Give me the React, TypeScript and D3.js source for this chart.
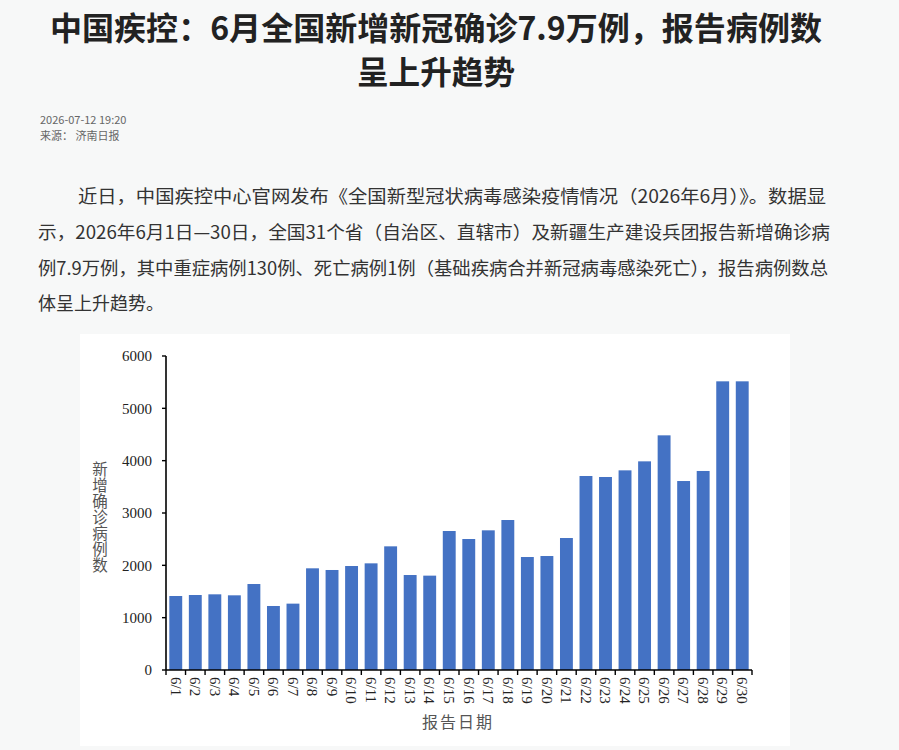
import React from "react";
import * as d3 from "d3";

const categories = ["6/1","6/2","6/3","6/4","6/5","6/6","6/7","6/8","6/9","6/10","6/11","6/12","6/13","6/14","6/15","6/16","6/17","6/18","6/19","6/20","6/21","6/22","6/23","6/24","6/25","6/26","6/27","6/28","6/29","6/30"];
const values = [1414,1433,1446,1427,1643,1223,1268,1943,1911,1987,2038,2363,1815,1803,2656,2503,2669,2866,2159,2178,2522,3707,3688,3815,3987,4484,3611,3803,5516,5516];
const yTicks = [0,1000,2000,3000,4000,5000,6000];
const titleLines = ["中国疾控：6月全国新增新冠确诊7.9万例，报告病例数", "呈上升趋势"];
const metaLines = ["2026-07-12 19:20", "来源：  济南日报"];
const paraLines = [
  "近日，中国疾控中心官网发布《全国新型冠状病毒感染疫情情况（2026年6月）》。数据显",
  "示，2026年6月1日—30日，全国31个省（自治区、直辖市）及新疆生产建设兵团报告新增确诊病",
  "例7.9万例，其中重症病例130例、死亡病例1例（基础疾病合并新冠病毒感染死亡），报告病例数总",
  "体呈上升趋势。",
];
const yAxisTitle = "新增确诊病例数";
const xAxisTitle = "报告日期";

export default function App() {
  const W = 899, H = 750;
  const x0 = 166, x1 = 752, yBase = 670, yTop = 356;
  const x = d3.scaleBand<string>().domain(categories).range([x0, x1]).paddingInner(0.34).paddingOuter(0.17);
  const y = d3.scaleLinear().domain([0, 6000]).range([yBase, yTop]);
  const step = (x1 - x0) / categories.length;
  const sans = "'Noto Sans CJK SC', 'Noto Sans', sans-serif";
  const serif = "'Liberation Serif', 'DejaVu Serif', 'Noto Sans CJK SC', serif";
  const paraSpec = [
    { x: 78, y: 203, len: 748 },
    { x: 38, y: 239, len: 792 },
    { x: 38, y: 275, len: 790 },
    { x: 38, y: 310, len: 0 },
  ];
  return (
    <svg width={W} height={H} style={{ position: "absolute", left: 0, top: 0 }} xmlns="http://www.w3.org/2000/svg">
      <rect x={0} y={0} width={W} height={H} fill="#f7f8f8" />
      {/* title */}
      <text x={436} y={40} textAnchor="middle" fontFamily={sans} fontWeight={700} fontSize={32} fill="#222"
        textLength={772} lengthAdjust="spacingAndGlyphs">{titleLines[0]}</text>
      <text x={436} y={84} textAnchor="middle" fontFamily={sans} fontWeight={700} fontSize={32} fill="#222"
        textLength={158} lengthAdjust="spacingAndGlyphs">{titleLines[1]}</text>
      {/* meta */}
      <text x={40} y={124} fontFamily={sans} fontSize={11} fill="#666">{metaLines[0]}</text>
      <text x={40} y={140} fontFamily={sans} fontSize={11} fill="#666">{metaLines[1]}</text>
      {/* paragraph */}
      {paraLines.map((t, i) => (
        <text key={i} x={paraSpec[i].x} y={paraSpec[i].y} fontFamily={sans} fontSize={18} fill="#333"
          {...(paraSpec[i].len ? { textLength: paraSpec[i].len, lengthAdjust: "spacingAndGlyphs" } : {})}>{t}</text>
      ))}
      {/* chart panel */}
      <rect x={80} y={334} width={710} height={412} fill="#ffffff" />
      {categories.map((c, i) => (
        <rect key={c} x={x(c)!} y={y(values[i])} width={x.bandwidth()} height={yBase - y(values[i])} fill="#4472c4" />
      ))}
      {/* y axis */}
      <line x1={x0} x2={x0} y1={yTop} y2={yBase} stroke="#000" strokeWidth={1.6} />
      {yTicks.map((t) => (
        <g key={t}>
          <line x1={x0 - 4} x2={x0} y1={y(t)} y2={y(t)} stroke="#000" strokeWidth={1.4} />
          <text x={152} y={y(t)} dy="0.35em" textAnchor="end" fontFamily={serif} fontSize={15} fill="#222">{t}</text>
        </g>
      ))}
      {/* x axis */}
      <line x1={x0} x2={x1} y1={yBase} y2={yBase} stroke="#000" strokeWidth={1.6} />
      {d3.range(categories.length + 1).map((i) => (
        <line key={i} x1={x0 + i * step} x2={x0 + i * step} y1={yBase} y2={yBase + 5} stroke="#000" strokeWidth={1.4} />
      ))}
      {categories.map((c) => {
        const cx = x(c)! + x.bandwidth() / 2;
        return (
          <text key={c} transform={`translate(${cx},${yBase + 7}) rotate(90)`} dy="0.35em" fontFamily={serif} fontSize={15} fill="#222">{c}</text>
        );
      })}
      {/* axis titles */}
      <text x={100} y={461} style={{ writingMode: "vertical-rl" }} fontFamily={sans} fontSize={15.5} letterSpacing={0.6} fill="#555">{yAxisTitle}</text>
      <text x={458} y={728} textAnchor="middle" fontFamily={sans} fontSize={16} letterSpacing={2} fill="#555">{xAxisTitle}</text>
    </svg>
  );
}
